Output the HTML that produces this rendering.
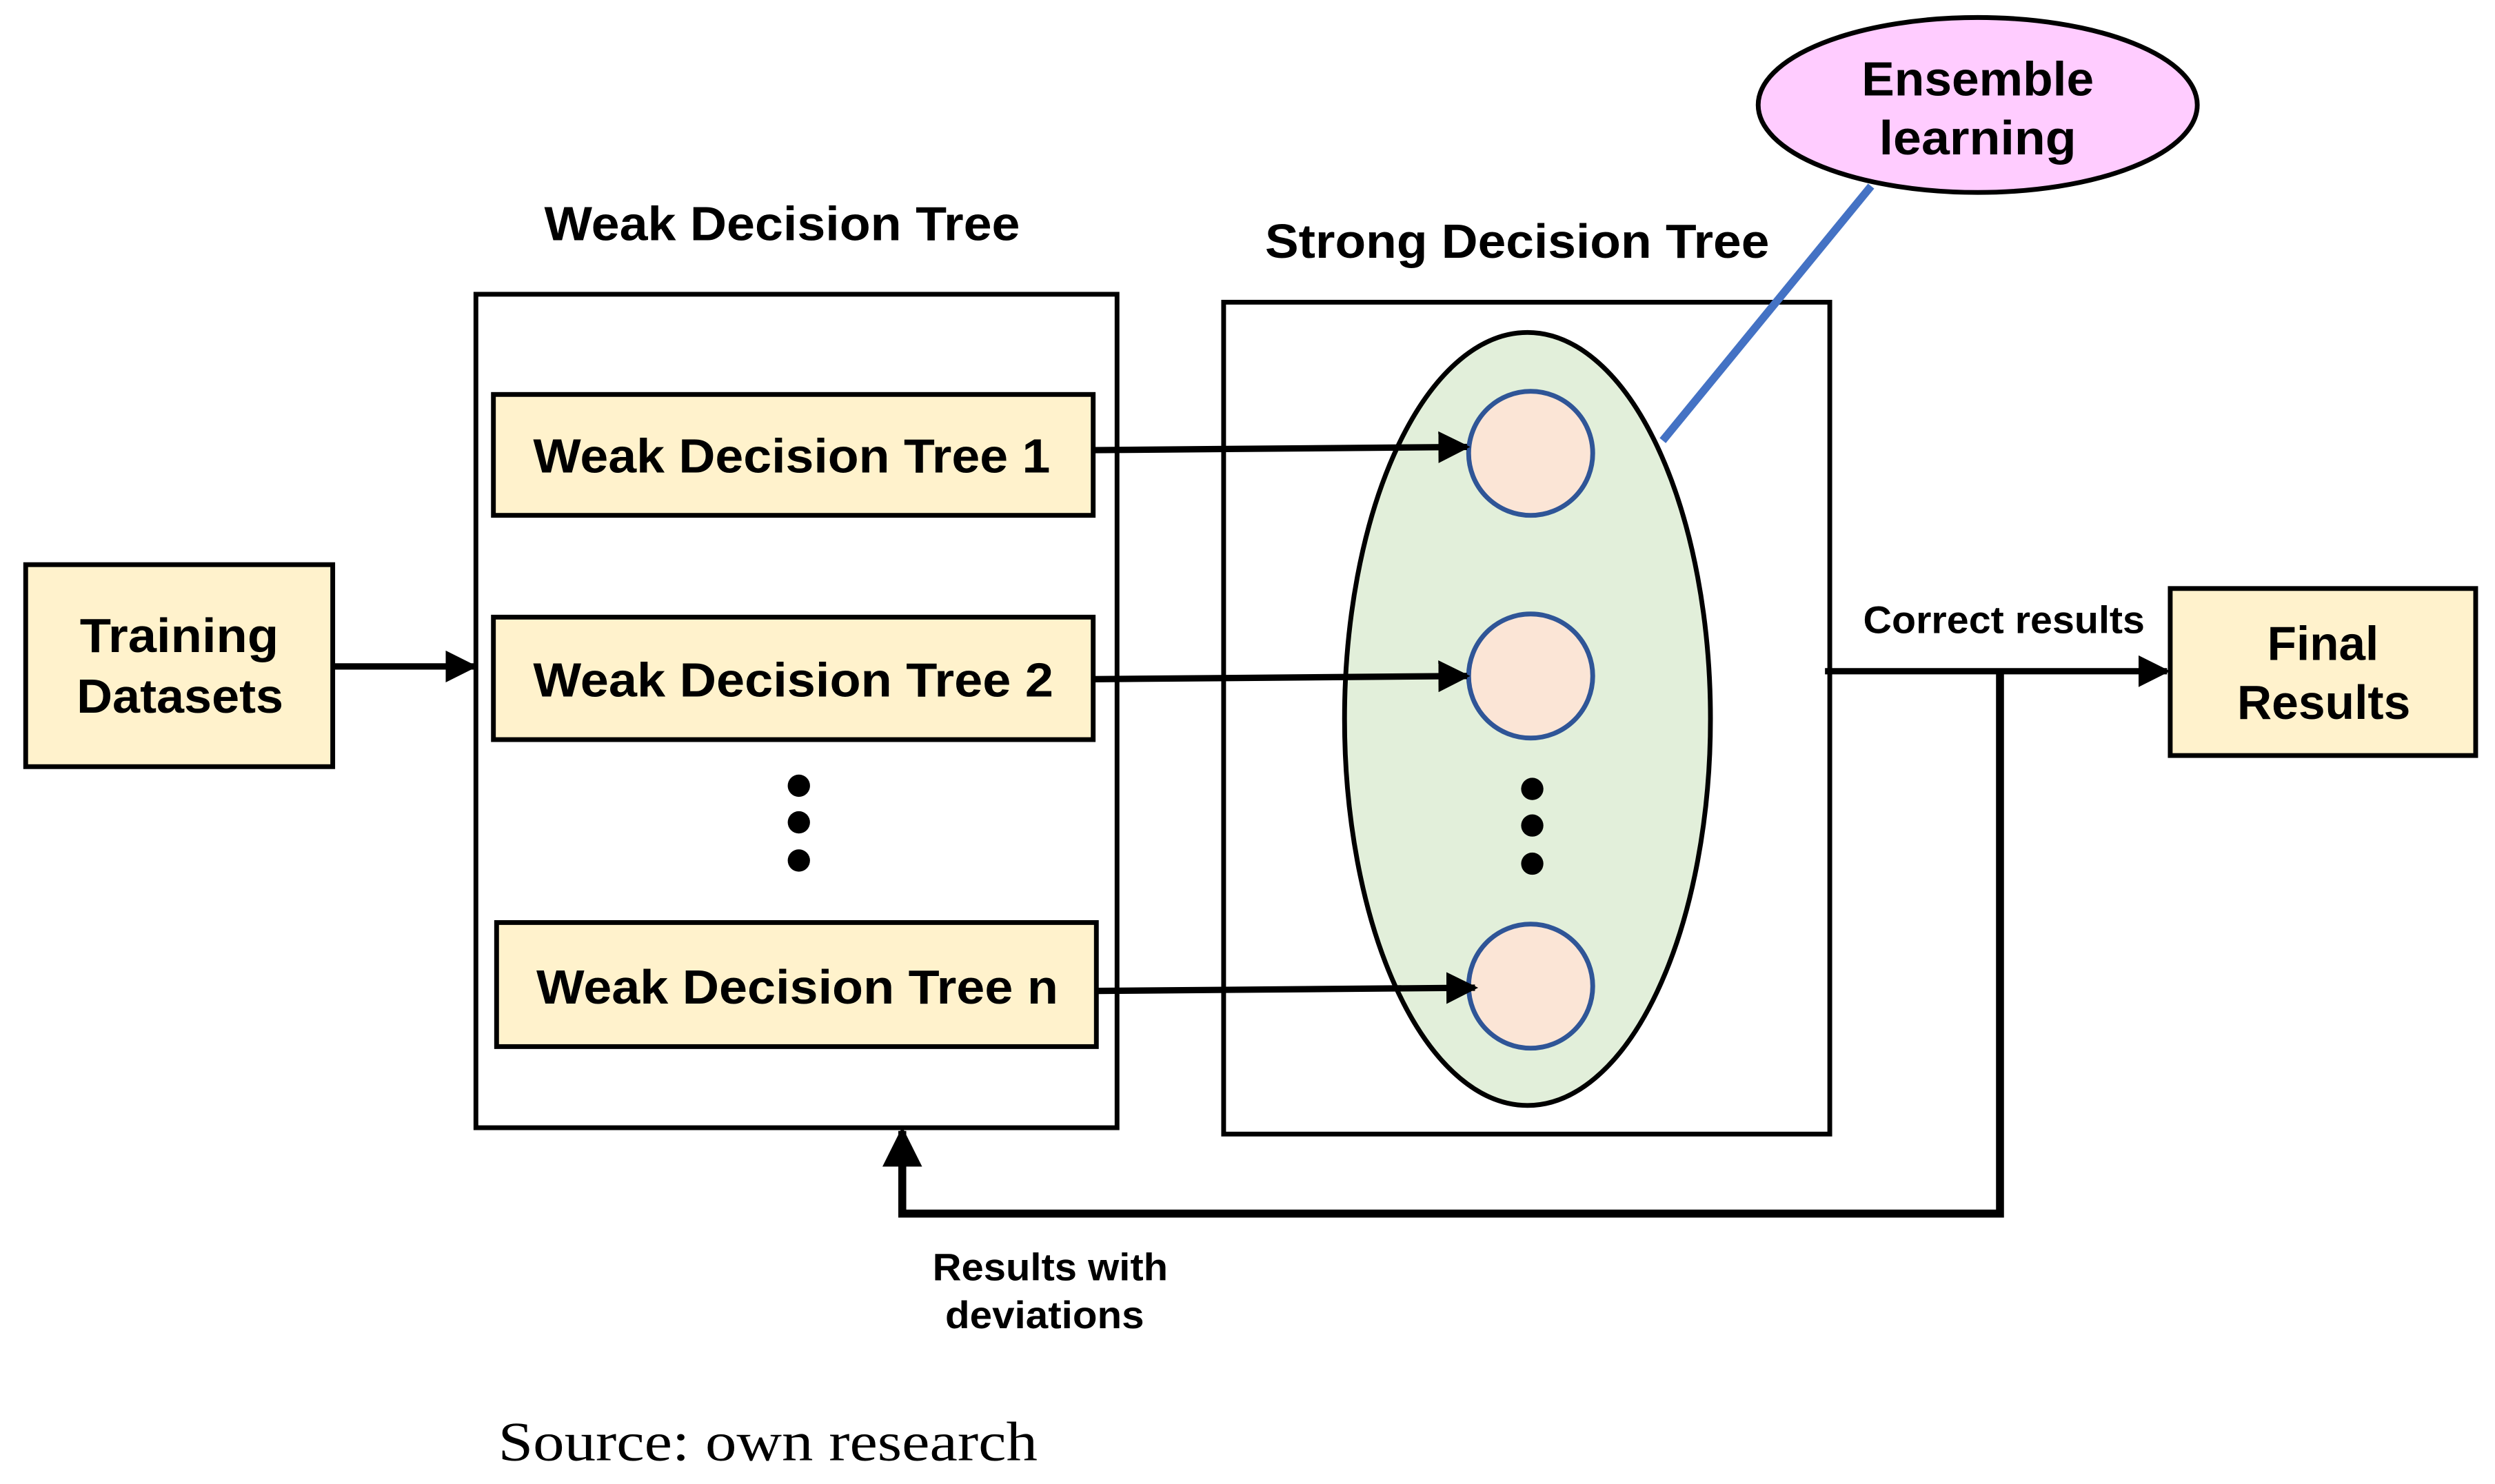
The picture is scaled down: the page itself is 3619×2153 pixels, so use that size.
<!DOCTYPE html>
<html><head><meta charset="utf-8"><style>
html,body{margin:0;padding:0;background:#fff;width:3619px;height:2153px;overflow:hidden}
svg{display:block}
text{font-family:"Liberation Sans",sans-serif;font-weight:bold;fill:#000}
</style></head><body>
<svg width="3619" height="2153" viewBox="0 0 1568 933" xmlns="http://www.w3.org/2000/svg">
<defs>
<marker id="ah2" markerWidth="5" markerHeight="5" refX="4.5" refY="2.5" orient="auto" markerUnits="strokeWidth">
<path d="M0,0 L5,2.5 L0,5 z" fill="#000"/></marker>
</defs>
<!-- Training -->
<rect x="16" y="355" width="193" height="127" fill="#fff2cc" stroke="#000" stroke-width="3"/>
<text x="50" y="410" font-size="30" textLength="125" lengthAdjust="spacingAndGlyphs">Training</text>
<text x="48" y="448" font-size="30" textLength="130" lengthAdjust="spacingAndGlyphs">Datasets</text>
<line x1="209" y1="419" x2="298" y2="419" stroke="#000" stroke-width="4" marker-end="url(#ah2)"/>
<!-- Weak container -->
<text x="342" y="151" font-size="30" textLength="299" lengthAdjust="spacingAndGlyphs">Weak Decision Tree</text>
<rect x="299" y="185" width="403" height="524" fill="none" stroke="#000" stroke-width="3"/>
<rect x="310" y="248" width="377" height="76" fill="#fff2cc" stroke="#000" stroke-width="3"/>
<text x="335" y="297" font-size="30" textLength="325" lengthAdjust="spacingAndGlyphs">Weak Decision Tree 1</text>
<rect x="310" y="388" width="377" height="77" fill="#fff2cc" stroke="#000" stroke-width="3"/>
<text x="335" y="438" font-size="30" textLength="327" lengthAdjust="spacingAndGlyphs">Weak Decision Tree 2</text>
<circle cx="502" cy="494" r="7"/><circle cx="502" cy="517" r="7"/><circle cx="502" cy="541" r="7"/>
<rect x="312" y="580" width="377" height="78" fill="#fff2cc" stroke="#000" stroke-width="3"/>
<text x="337" y="631" font-size="30" textLength="328" lengthAdjust="spacingAndGlyphs">Weak Decision Tree n</text>
<!-- Strong container -->
<text x="795" y="162" font-size="30" textLength="317" lengthAdjust="spacingAndGlyphs">Strong Decision Tree</text>
<rect x="769" y="190" width="381" height="523" fill="none" stroke="#000" stroke-width="3"/>
<ellipse cx="960" cy="452" rx="115" ry="243" fill="#e2efda" stroke="#000" stroke-width="3"/>
<circle cx="962" cy="285" r="39" fill="#fbe5d6" stroke="#2f5597" stroke-width="3"/>
<circle cx="962" cy="425" r="39" fill="#fbe5d6" stroke="#2f5597" stroke-width="3"/>
<circle cx="962" cy="620" r="39" fill="#fbe5d6" stroke="#2f5597" stroke-width="3"/>
<circle cx="963" cy="496" r="7"/><circle cx="963" cy="519" r="7"/><circle cx="963" cy="543" r="7"/>
<line x1="687" y1="283" x2="922" y2="281" stroke="#000" stroke-width="4" marker-end="url(#ah2)"/>
<line x1="687" y1="427" x2="922" y2="425" stroke="#000" stroke-width="4" marker-end="url(#ah2)"/>
<line x1="689" y1="623" x2="927" y2="621" stroke="#000" stroke-width="4" marker-end="url(#ah2)"/>
<!-- Ensemble -->
<line x1="1045" y1="277" x2="1176" y2="117" stroke="#4472c4" stroke-width="5"/>
<ellipse cx="1243" cy="66" rx="138" ry="55" fill="#ffccff" stroke="#000" stroke-width="3"/>
<text x="1170" y="60" font-size="30" textLength="146" lengthAdjust="spacingAndGlyphs">Ensemble</text>
<text x="1181" y="97" font-size="30" textLength="124" lengthAdjust="spacingAndGlyphs">learning</text>
<!-- Output -->
<text x="1171" y="398" font-size="24" textLength="177" lengthAdjust="spacingAndGlyphs">Correct results</text>
<line x1="1147" y1="422" x2="1362" y2="422" stroke="#000" stroke-width="4" marker-end="url(#ah2)"/>
<rect x="1364" y="370" width="192" height="105" fill="#fff2cc" stroke="#000" stroke-width="3"/>
<text x="1425" y="415" font-size="30" textLength="70" lengthAdjust="spacingAndGlyphs">Final</text>
<text x="1406" y="452" font-size="30" textLength="109" lengthAdjust="spacingAndGlyphs">Results</text>
<!-- Feedback -->
<polyline points="1257,422 1257,763 567,763 567,711" fill="none" stroke="#000" stroke-width="5" marker-end="url(#ah2)"/>
<text x="586" y="805" font-size="24" textLength="148" lengthAdjust="spacingAndGlyphs">Results with</text>
<text x="594" y="835" font-size="24" textLength="125" lengthAdjust="spacingAndGlyphs">deviations</text>
<text x="313" y="918" font-size="35" textLength="339" lengthAdjust="spacingAndGlyphs" style="font-family:'Liberation Serif',serif;font-weight:normal">Source: own research</text>
</svg>
</body></html>
